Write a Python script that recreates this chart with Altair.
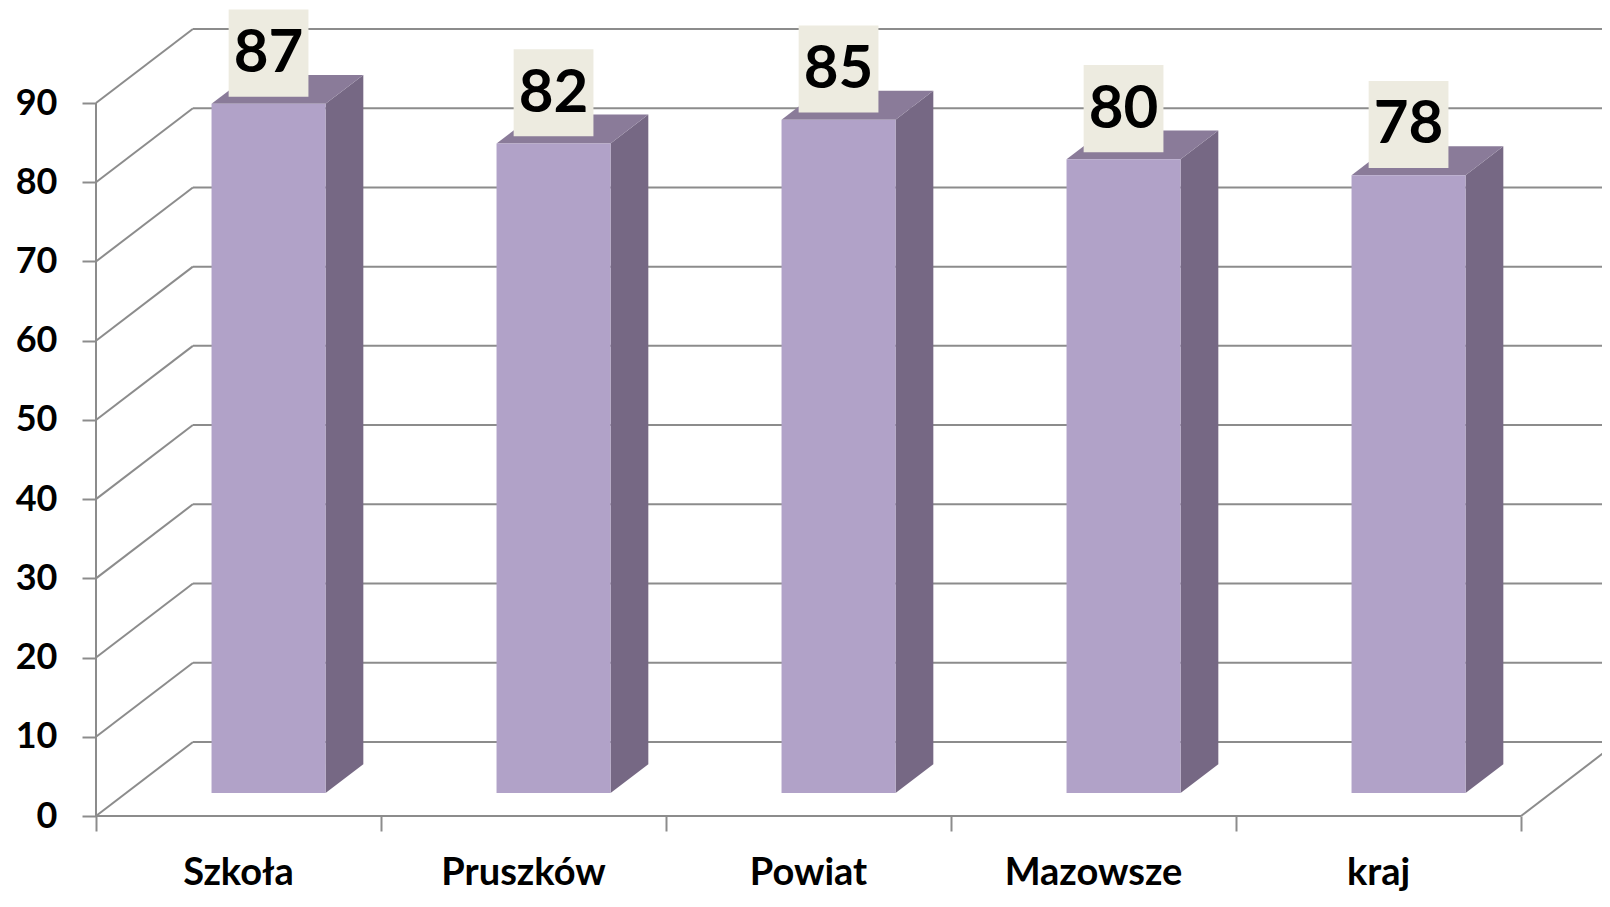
import altair as alt
import pandas as pd

categories = ["Szkoła", "Pruszków", "Powiat", "Mazowsze", "kraj"]
values = [87, 82, 85, 80, 78]
tick_values = [0, 10, 20, 30, 40, 50, 60, 70, 80, 90]

# projection / layout constants (data units)
DX = 0.34      # depth offset in category units
DY = 9.35      # depth offset in value units
F, B = 0.31, 0.70   # bar front/back depth fractions
X_MAX = 1506 / 285
Y_MAX = 102.0
FONT = "Lato"
GRID = "#8c8c8c"

xs = alt.Scale(domain=[0, X_MAX], nice=False, zero=False)
ys = alt.Scale(domain=[0, Y_MAX], nice=False, zero=False)

# gridlines: back wall, left wall diagonals
grid_rows = []
for v in tick_values:
    grid_rows.append(dict(x=DX, x2=5 + DX + 0.2, y=v + DY, y2=v + DY))
    grid_rows.append(dict(x=0, x2=DX, y=v, y2=v + DY))
grid_rows.append(dict(x=0, x2=5, y=0, y2=0))            # front floor edge
grid_rows.append(dict(x=5, x2=5 + DX, y=0, y2=DY))     # right floor edge
grid_rows.append(dict(x=0, x2=0, y=0, y2=90))          # front vertical axis
grid_df = pd.DataFrame(grid_rows)

grid = alt.Chart(grid_df).mark_rule(color=GRID, strokeWidth=2).encode(
    x=alt.X("x:Q", scale=xs, axis=alt.Axis(values=[0, 1, 2, 3, 4, 5], labels=False, domain=False,
                                              grid=False, tickSize=15, tickColor=GRID, tickWidth=2,
                                              title=None)),
    x2="x2:Q",
    y=alt.Y("y:Q", scale=ys, axis=alt.Axis(values=tick_values, domain=False, grid=False,
                                              tickSize=14, tickColor=GRID, tickWidth=2,
                                              labelFont=FONT, labelFontSize=36, labelFontWeight="bold",
                                              labelColor="#000000", labelPadding=25, title=None)),
    y2="y2:Q",
)

# bars
front_rows, side_rows, top_rows, lab_rows, cat_rows = [], [], [], [], []
for i, (c, v) in enumerate(zip(categories, values)):
    front_rows.append(dict(c=c, x=i + 0.3 + F * DX, x2=i + 0.7 + F * DX, y=F * DY, y2=v + F * DY))
    side_rows.append(dict(c=c, x=i + 0.7 + F * DX, y=F * DY, y2=v + F * DY))
    side_rows.append(dict(c=c, x=i + 0.7 + B * DX, y=B * DY, y2=v + B * DY))
    top_rows.append(dict(c=c, y=v + F * DY, x=i + 0.3 + F * DX, x2=i + 0.7 + F * DX))
    top_rows.append(dict(c=c, y=v + B * DY, x=i + 0.3 + B * DX, x2=i + 0.7 + B * DX))
    cy = v + F * DY + 6.4
    lab_rows.append(dict(c=c, label=str(v), x=i + 0.5 + F * DX - 0.14, x2=i + 0.5 + F * DX + 0.14,
                         xc=i + 0.5 + F * DX, y=cy - 5.5, y2=cy + 5.5, yc=cy))
    cat_rows.append(dict(c=c, x=i + 0.5, y=0))

front = alt.Chart(pd.DataFrame(front_rows)).mark_rect(color="#b1a2c8").encode(
    x=alt.X("x:Q", scale=xs), x2="x2:Q", y=alt.Y("y:Q", scale=ys), y2="y2:Q")

side = alt.Chart(pd.DataFrame(side_rows)).mark_area(color="#766884", orient="vertical").encode(
    x=alt.X("x:Q", scale=xs), y=alt.Y("y:Q", scale=ys, stack=False), y2="y2:Q", detail="c:N")

top = alt.Chart(pd.DataFrame(top_rows)).mark_area(color="#8a7b99", orient="horizontal").encode(
    y=alt.Y("y:Q", scale=ys), x=alt.X("x:Q", scale=xs, stack=False), x2="x2:Q", detail="c:N")

lab_df = pd.DataFrame(lab_rows)
boxes = alt.Chart(lab_df).mark_rect(color="#edebe0").encode(
    x=alt.X("x:Q", scale=xs), x2="x2:Q", y=alt.Y("y:Q", scale=ys), y2="y2:Q")
labels = alt.Chart(lab_df).mark_text(font=FONT, fontSize=60, fontWeight="bold", color="#000000",
                                     baseline="middle", align="center", dy=1).encode(
    x=alt.X("xc:Q", scale=xs), y=alt.Y("yc:Q", scale=ys), text="label:N")

cats = alt.Chart(pd.DataFrame(cat_rows)).mark_text(font=FONT, fontSize=38, fontWeight="bold",
                                                   color="#000000", baseline="alphabetic",
                                                   align="center", dy=69).encode(
    x=alt.X("x:Q", scale=xs), y=alt.Y("y:Q", scale=ys), text="c:N")

chart = alt.layer(grid, side, top, front, boxes, labels, cats).properties(
    width=1506, height=808,
    autosize=alt.AutoSizeParams(type="none"),
    padding={"left": 88, "top": 0, "right": 0, "bottom": 80},
).configure_view(stroke=None)

chart.save("out.html", embed_options={"renderer": "svg", "actions": False})
